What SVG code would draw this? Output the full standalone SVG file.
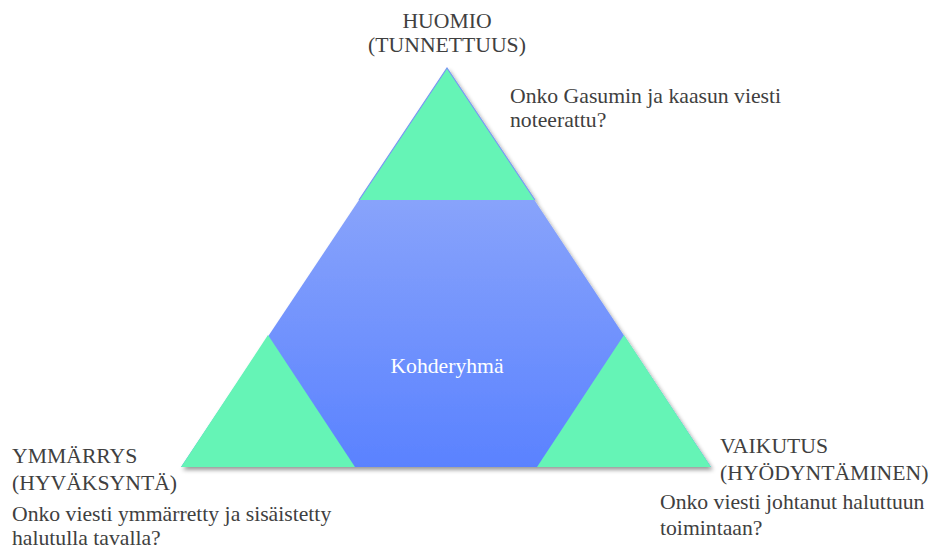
<svg xmlns="http://www.w3.org/2000/svg" width="932" height="549" viewBox="0 0 932 549">
  <defs>
    <linearGradient id="blueGrad" gradientUnits="userSpaceOnUse" x1="0" y1="200" x2="0" y2="467">
      <stop offset="0" stop-color="#88a3fb"/>
      <stop offset="1" stop-color="#5a82ff"/>
    </linearGradient>
    <filter id="shadow" x="-10%" y="-10%" width="120%" height="125%">
      <feGaussianBlur in="SourceAlpha" stdDeviation="2"/>
      <feOffset dx="2" dy="3" result="b"/>
      <feComponentTransfer><feFuncA type="linear" slope="0.4"/></feComponentTransfer>
      <feMerge><feMergeNode/><feMergeNode in="SourceGraphic"/></feMerge>
    </filter>
  </defs>
  <style>
    .t { font-family: "Liberation Serif", "Times New Roman", "DejaVu Serif", serif; font-size: 21.7px; fill: #404040; }
    .w { fill: #ffffff; }
    .green { fill: #65f4b6; }
  </style>

  <g id="pyramid" filter="url(#shadow)">
    <polygon id="center" points="447,68 711,467 181,467" fill="url(#blueGrad)"/>
    <polygon class="green" points="447,68 535,200 359,200"/>
    <polygon class="green" points="268,335 355,467 181,467"/>
    <polygon class="green" points="624,335 711,467 537,467"/>
    <polyline points="359,200 447,68 535,200" fill="none" stroke="#7b96f5" stroke-width="1.2"/>
  </g>

  <g id="connectors"></g>

  <g id="node-center">
    <text class="t w" x="447" y="373" text-anchor="middle">Kohderyhmä</text>
  </g>

  <g id="node-huomio">
    <text class="t" x="447" y="28" text-anchor="middle">HUOMIO</text>
    <text class="t" x="447" y="52" text-anchor="middle">(TUNNETTUUS)</text>
    <text class="t" x="510" y="103">Onko Gasumin ja kaasun viesti</text>
    <text class="t" x="510" y="127">noteerattu?</text>
  </g>

  <g id="node-ymmarrys">
    <text class="t" x="12" y="463">YMMÄRRYS</text>
    <text class="t" x="12" y="490">(HYVÄKSYNTÄ)</text>
    <text class="t" x="12" y="521">Onko viesti ymmärretty ja sisäistetty</text>
    <text class="t" x="12" y="545">halutulla tavalla?</text>
  </g>

  <g id="node-vaikutus">
    <text class="t" x="720" y="453">VAIKUTUS</text>
    <text class="t" x="720" y="480">(HYÖDYNTÄMINEN)</text>
    <text class="t" x="660" y="509">Onko viesti johtanut haluttuun</text>
    <text class="t" x="660" y="535">toimintaan?</text>
  </g>
</svg>
